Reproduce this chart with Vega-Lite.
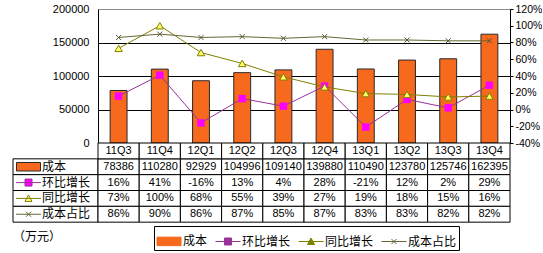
{
  "$schema": "https://vega.github.io/schema/vega-lite/v6.json",
  "background": "white",
  "padding": {"left": 12, "top": 3, "right": 0, "bottom": 0},
  "datasets": {
    "q": [
      {"q": "11Q3", "成本": 78386, "环比增长": 0.16, "同比增长": 0.73, "成本占比": 0.86},
      {"q": "11Q4", "成本": 110280, "环比增长": 0.41, "同比增长": 1.00, "成本占比": 0.90},
      {"q": "12Q1", "成本": 92929, "环比增长": -0.16, "同比增长": 0.68, "成本占比": 0.86},
      {"q": "12Q2", "成本": 104996, "环比增长": 0.13, "同比增长": 0.55, "成本占比": 0.87},
      {"q": "12Q3", "成本": 109140, "环比增长": 0.04, "同比增长": 0.39, "成本占比": 0.85},
      {"q": "12Q4", "成本": 139880, "环比增长": 0.28, "同比增长": 0.27, "成本占比": 0.87},
      {"q": "13Q1", "成本": 110490, "环比增长": -0.21, "同比增长": 0.19, "成本占比": 0.83},
      {"q": "13Q2", "成本": 123780, "环比增长": 0.12, "同比增长": 0.18, "成本占比": 0.83},
      {"q": "13Q3", "成本": 125746, "环比增长": 0.02, "同比增长": 0.15, "成本占比": 0.82},
      {"q": "13Q4", "成本": 162395, "环比增长": 0.29, "同比增长": 0.16, "成本占比": 0.82}
    ]
  },
  "columns": 2,
  "spacing": 0,
  "bounds": "flush",
  "align": "each",
  "concat": [
    {
      "width": 85, "height": 134,
      "data": {"values": []},
      "mark": "text",
      "encoding": {}
    },
    {
      "width": 412, "height": 134,
      "data": {"name": "q"},
      "resolve": {"scale": {"y": "independent"}},
      "layer": [
        {
          "mark": {"type": "bar", "stroke": "#2a2a2a", "strokeWidth": 1},
          "encoding": {
            "x": {"field": "q", "type": "nominal", "sort": null, "scale": {"paddingInner": 0.59, "paddingOuter": 0.295}, "axis": null},
            "y": {"field": "成本", "type": "quantitative", "scale": {"domain": [0, 200000], "nice": false},
              "axis": {"orient": "left", "values": [0, 50000, 100000, 150000, 200000], "format": "d", "grid": true,
                "gridColor": {"condition": {"test": "datum.value === 200000", "value": "#8c8c8c"}, "value": "#000000"},
                "gridOpacity": 1, "gridWidth": 1, "ticks": false, "domain": true, "domainColor": "#000000",
                "labelPadding": 9, "labelFont": "Liberation Sans", "labelFontSize": 11, "labelColor": "#000000",
                "labelFlush": false, "labelOverlap": false, "title": null}},
            "color": {"datum": "成本", "type": "nominal",
              "scale": {"domain": ["成本", "环比增长", "同比增长", "成本占比"], "range": ["#F7691C", "#993399", "#808000", "#666633"]},
              "legend": {"orient": "none", "legendX": 141, "legendY": 217, "direction": "horizontal", "title": null,
                "strokeColor": "#000000", "fillColor": "#ffffff", "padding": 2, "symbolSize": 625,
                "labelFont": "Noto Sans CJK SC", "labelFontSize": 12, "labelColor": "#000000", "labelOffset": 1, "columnPadding": 5,
                "encode": {"symbols": {"update": {
                  "shape": {"signal": "datum.value === '成本' ? 'M-0.96,-0.34H0.96V0.34H-0.96Z' : datum.value === '环比增长' ? 'M-1,0H1M-0.28,-0.28H0.28V0.28H-0.28Z' : datum.value === '同比增长' ? 'M-1,0H1M-0.28,0.24L0,-0.28L0.28,0.24Z' : 'M-1,0H1M-0.2,-0.2L0.2,0.2M-0.2,0.2L0.2,-0.2'"},
                  "fill": {"signal": "datum.value === '成本' ? '#F7691C' : datum.value === '环比增长' ? '#FF00FF' : datum.value === '同比增长' ? '#FFFF66' : 'transparent'"},
                  "stroke": {"signal": "datum.value === '成本' ? '#2a2a2a' : datum.value === '环比增长' ? '#993399' : datum.value === '同比增长' ? '#808000' : '#666633'"},
                  "strokeWidth": {"value": 1},
                  "opacity": {"value": 1},
                  "fillOpacity": {"value": 1},
                  "strokeOpacity": {"value": 1}
                }}}}
            }
          }
        },
        {
          "transform": [{"fold": ["环比增长", "同比增长", "成本占比"], "as": ["series", "v"]}],
          "encoding": {
            "x": {"field": "q", "type": "nominal", "sort": null, "axis": null},
            "y": {"field": "v", "type": "quantitative", "scale": {"domain": [-0.4, 1.2], "nice": false},
              "axis": {"orient": "right", "values": [-0.4, -0.2, 0, 0.2, 0.4, 0.6, 0.8, 1.0, 1.2], "format": ".0%",
                "grid": false, "ticks": true, "tickSize": 3, "tickColor": "#000000", "domain": true, "domainColor": "#000000",
                "labelPadding": 2, "labelFont": "Liberation Sans", "labelFontSize": 10.5, "labelColor": "#000000",
                "labelFlush": false, "labelOverlap": false, "title": null}}
          },
          "layer": [
            {
              "mark": {"type": "line", "strokeWidth": 1},
              "encoding": {"color": {"field": "series", "type": "nominal",
                "legend": {"orient": "none", "legendX": 141, "legendY": 217, "direction": "horizontal", "title": null,
                "strokeColor": "#000000", "fillColor": "#ffffff", "padding": 2, "symbolSize": 625,
                "labelFont": "Noto Sans CJK SC", "labelFontSize": 12, "labelColor": "#000000", "labelOffset": 1, "columnPadding": 5,
                "encode": {"symbols": {"update": {
                  "shape": {"signal": "datum.value === '成本' ? 'M-0.96,-0.34H0.96V0.34H-0.96Z' : datum.value === '环比增长' ? 'M-1,0H1M-0.28,-0.28H0.28V0.28H-0.28Z' : datum.value === '同比增长' ? 'M-1,0H1M-0.28,0.24L0,-0.28L0.28,0.24Z' : 'M-1,0H1M-0.2,-0.2L0.2,0.2M-0.2,0.2L0.2,-0.2'"},
                  "fill": {"signal": "datum.value === '成本' ? '#F7691C' : datum.value === '环比增长' ? '#FF00FF' : datum.value === '同比增长' ? '#FFFF66' : 'transparent'"},
                  "stroke": {"signal": "datum.value === '成本' ? '#2a2a2a' : datum.value === '环比增长' ? '#993399' : datum.value === '同比增长' ? '#808000' : '#666633'"},
                  "strokeWidth": {"value": 1},
                  "opacity": {"value": 1},
                  "fillOpacity": {"value": 1},
                  "strokeOpacity": {"value": 1}
                }}}}}}
            },
            {
              "transform": [{"filter": "datum.series === '环比增长'"}],
              "mark": {"type": "point", "shape": "square", "filled": true, "size": 55, "color": "#FF00FF", "opacity": 1}
            },
            {
              "transform": [{"filter": "datum.series === '同比增长'"}],
              "mark": {"type": "point", "shape": "triangle-up", "filled": true, "size": 55, "fill": "#FFFF66", "stroke": "#808000", "strokeWidth": 1, "opacity": 1}
            },
            {
              "transform": [{"filter": "datum.series === '成本占比'"}],
              "mark": {"type": "point", "shape": "M-1,-1L1,1M-1,1L1,-1", "filled": false, "size": 25, "stroke": "#555533", "strokeWidth": 1, "opacity": 1}
            }
          ]
        }
      ]
    },
    {
      "width": 85, "height": 95,
      "data": {"values": [{"row": "成本"}, {"row": "环比增长"}, {"row": "同比增长"}, {"row": "成本占比"}]},
      "encoding": {
        "y": {"field": "row", "type": "nominal", "scale": {"domain": ["hdr", "成本", "环比增长", "同比增长", "成本占比", "unit"], "paddingInner": 0, "paddingOuter": 0}, "axis": null}
      },
      "layer": [
        {
          "mark": {"type": "rect", "fill": "#ffffff", "stroke": "#000000", "strokeWidth": 1},
          "encoding": {
            "x": {"datum": 0, "type": "quantitative", "scale": {"domain": [0, 85], "nice": false, "zero": false}, "axis": null},
            "x2": {"datum": 85}
          }
        },
        {
          "mark": {"type": "point", "size": 625, "strokeWidth": 1, "opacity": 1, "fillOpacity": 1},
          "encoding": {
            "x": {"datum": 15.5, "type": "quantitative"},
            "shape": {"field": "row", "type": "nominal", "legend": null,
              "scale": {"domain": ["成本", "环比增长", "同比增长", "成本占比"], "range": ["M-0.96,-0.34H0.96V0.34H-0.96Z", "M-1,0H1M-0.28,-0.28H0.28V0.28H-0.28Z", "M-1,0H1M-0.28,0.24L0,-0.28L0.28,0.24Z", "M-1,0H1M-0.2,-0.2L0.2,0.2M-0.2,0.2L0.2,-0.2"]}},
            "fill": {"field": "row", "type": "nominal", "legend": null,
              "scale": {"domain": ["成本", "环比增长", "同比增长", "成本占比"], "range": ["#F7691C", "#FF00FF", "#FFFF66", "transparent"]}},
            "stroke": {"field": "row", "type": "nominal", "legend": null,
              "scale": {"domain": ["成本", "环比增长", "同比增长", "成本占比"], "range": ["#2a2a2a", "#993399", "#808000", "#666633"]}}
          }
        },
        {
          "mark": {"type": "text", "align": "left", "baseline": "middle", "font": "Noto Sans CJK SC", "fontSize": 12, "color": "#000000"},
          "encoding": {
            "x": {"datum": 29, "type": "quantitative"},
            "text": {"field": "row"}
          }
        },
        {
          "data": {"values": [{"unit": "（万元）"}]},
          "mark": {"type": "text", "align": "left", "baseline": "middle", "dy": 7, "font": "Noto Sans CJK SC", "fontSize": 12, "color": "#000000"},
          "encoding": {
            "x": {"datum": 0, "type": "quantitative"},
            "y": {"datum": "unit", "type": "nominal"},
            "text": {"field": "unit"}
          }
        }
      ]
    },
    {
      "width": 412, "height": 95,
      "data": {"name": "q"},
      "encoding": {
        "x": {"field": "q", "type": "nominal", "sort": null, "scale": {"paddingInner": 0, "paddingOuter": 0}, "axis": null}
      },
      "layer": [
        {
          "transform": [{"fold": ["成本", "环比增长", "同比增长", "成本占比"], "as": ["row", "v"]}],
          "mark": {"type": "rect", "fill": "#ffffff", "stroke": "#000000", "strokeWidth": 1},
          "encoding": {
            "y": {"field": "row", "type": "nominal", "scale": {"domain": ["hdr", "成本", "环比增长", "同比增长", "成本占比", "unit"], "paddingInner": 0, "paddingOuter": 0}, "axis": null}
          }
        },
        {
          "mark": {"type": "rect", "fill": "#ffffff", "stroke": "#000000", "strokeWidth": 1},
          "encoding": {"y": {"datum": "hdr", "type": "nominal"}}
        },
        {
          "mark": {"type": "text", "font": "Liberation Sans", "fontSize": 11, "color": "#000000", "baseline": "middle"},
          "encoding": {"y": {"datum": "hdr", "type": "nominal"}, "text": {"field": "q"}}
        },
        {
          "mark": {"type": "text", "font": "Liberation Sans", "fontSize": 11, "color": "#000000", "baseline": "middle"},
          "encoding": {"y": {"datum": "成本", "type": "nominal"}, "text": {"field": "成本", "type": "quantitative", "format": "d"}}
        },
        {
          "mark": {"type": "text", "font": "Liberation Sans", "fontSize": 11, "color": "#000000", "baseline": "middle"},
          "encoding": {"y": {"datum": "环比增长", "type": "nominal"}, "text": {"field": "环比增长", "type": "quantitative", "format": ".0%"}}
        },
        {
          "mark": {"type": "text", "font": "Liberation Sans", "fontSize": 11, "color": "#000000", "baseline": "middle"},
          "encoding": {"y": {"datum": "同比增长", "type": "nominal"}, "text": {"field": "同比增长", "type": "quantitative", "format": ".0%"}}
        },
        {
          "mark": {"type": "text", "font": "Liberation Sans", "fontSize": 11, "color": "#000000", "baseline": "middle"},
          "encoding": {"y": {"datum": "成本占比", "type": "nominal"}, "text": {"field": "成本占比", "type": "quantitative", "format": ".0%"}}
        }
      ]
    }
  ],
  "config": {
    "view": {"stroke": null},
    "locale": {"number": {"decimal": ".", "thousands": ",", "grouping": [3], "currency": ["", ""], "minus": "-"}}
  }
}
